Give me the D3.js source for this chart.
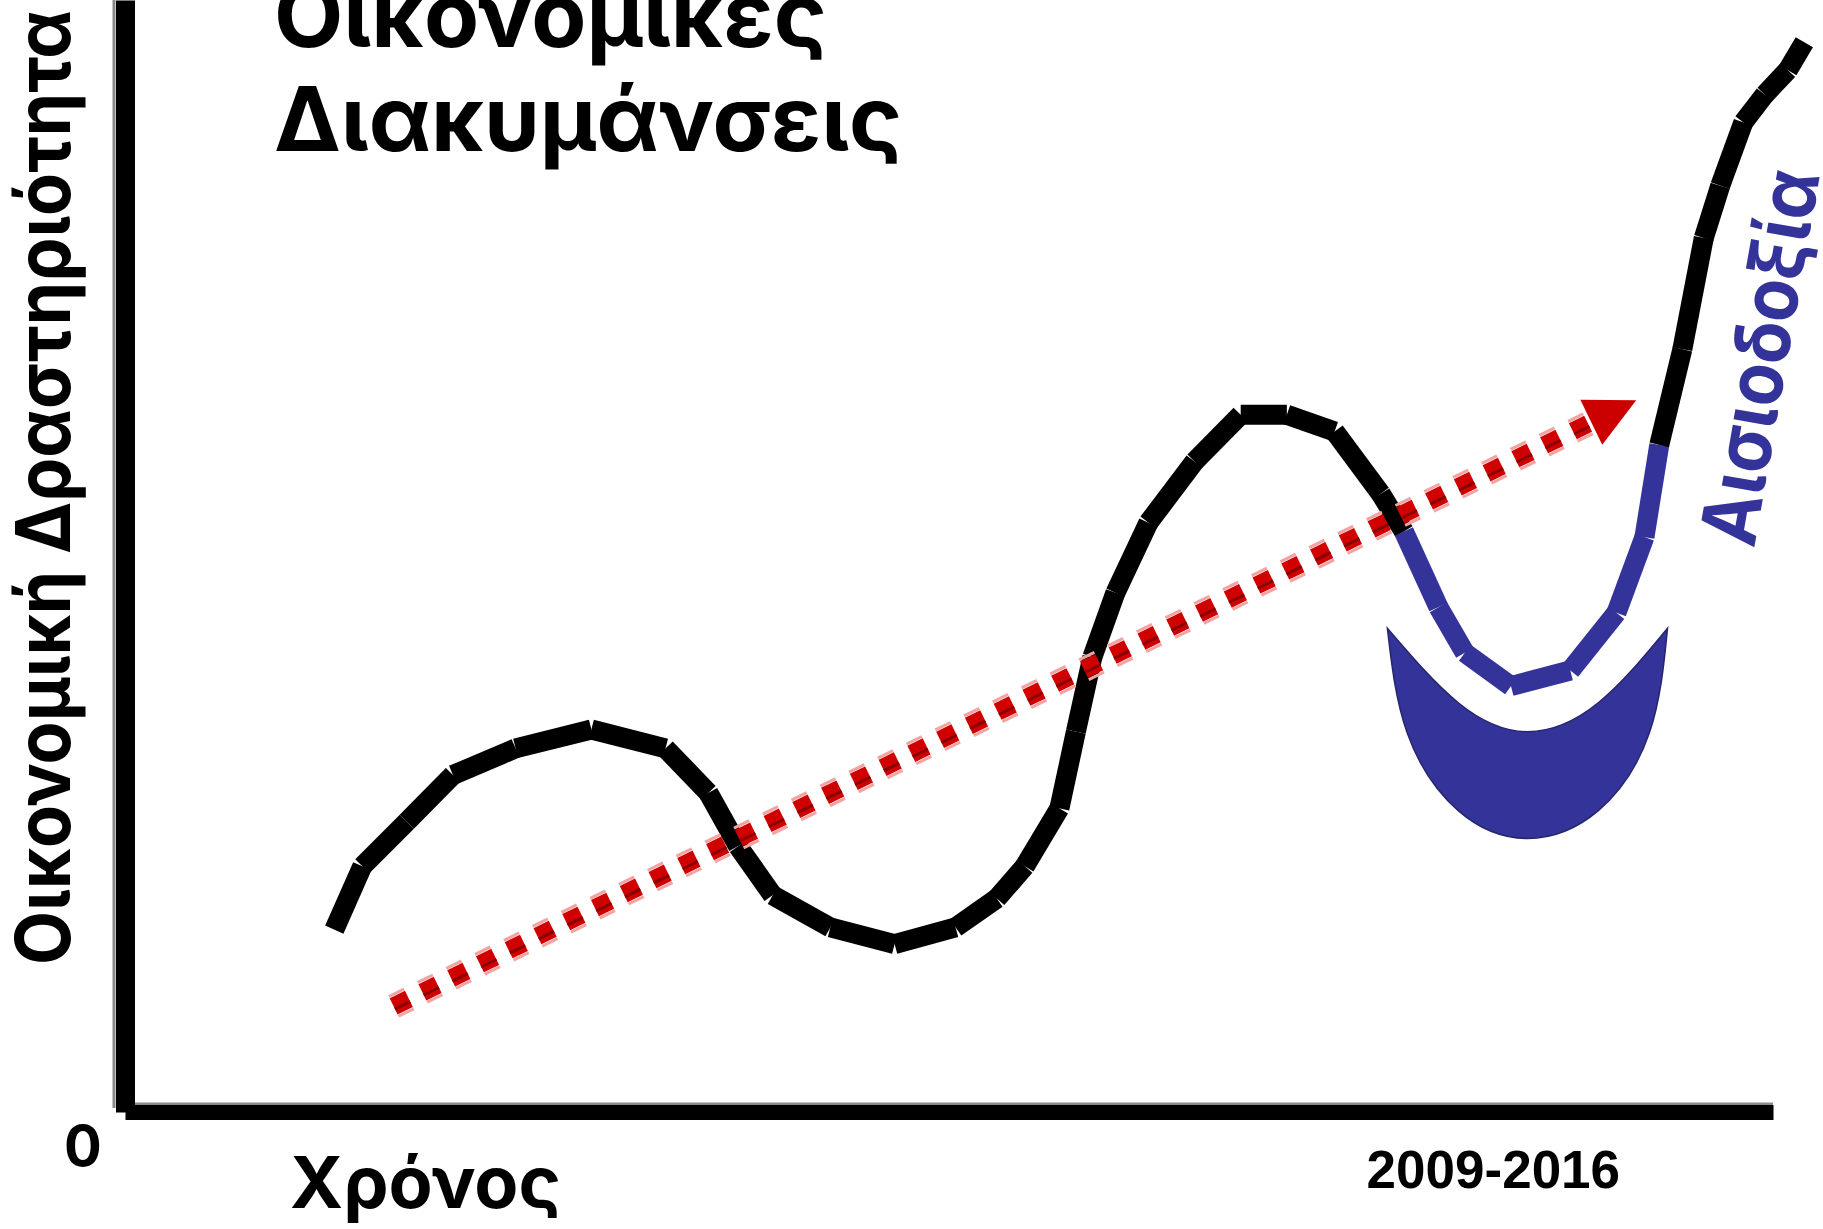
<!DOCTYPE html>
<html>
<head>
<meta charset="utf-8">
<script src="https://cdn.jsdelivr.net/npm/d3@7/dist/d3.min.js"></script>
<style>
  body { margin: 0; background: #fff; }
  text { font-family: Inter, "Open Sans", sans-serif; font-weight: 700; }
</style>
</head>
<body>
<div id="chart"></div>
<script>
// economic activity over time (0-100 both ways)
var cycleX = [12.7, 14.4, 17.1, 19.9, 23.7, 28.3, 32.8, 35.4, 37.2, 39.3, 42.8, 46.7, 50.4, 52.9, 54.6, 56.7, 57.7, 58.7, 60.1, 62.1, 64.9, 67.7, 70.5, 73.4, 76.2, 77.6];
var cycleY = [16.4, 22.1, 26.1, 30.3, 32.7, 34.4, 32.7, 28.7, 23.9, 19.5, 16.6, 15.1, 16.6, 19.2, 22.1, 27.3, 34.2, 40.9, 46.7, 53.0, 58.5, 62.7, 62.7, 61.2, 55.6, 52.2];
// blue dip (2009-2016)
var dipX = [77.6, 79.7, 81.3, 84.1, 87.7, 90.5, 92.2, 93.1];
var dipY = [52.2, 45.4, 41.3, 38.3, 39.7, 44.9, 51.7, 60.0];
// recovery
var boomX = [93.1, 94.5, 95.8, 96.8, 98.2, 99.5, 100.9, 101.9];
var boomY = [60.0, 68.6, 78.6, 83.3, 89.0, 91.5, 93.7, 96.2];
// long-run trend arrow
var trendX = [16.3, 91.7];
var trendY = [9.5, 64.0];
// smile under the dip
var smileOuterX = [76.6, 77.8, 80.9, 85.1, 89.4, 92.5, 93.6];
var smileOuterY = [43.5, 34.1, 27.1, 24.6, 27.1, 34.1, 43.5];
var smileInnerX = [93.6, 89.4, 85.1, 80.9, 76.6];
var smileInnerY = [43.5, 36.8, 34.2, 36.8, 43.5];

var titleLines = ["Οικονομικές", "Διακυμάνσεις"];
var yLabel = "Οικονομική Δραστηριότητα";
var xLabel = "Χρόνος";
var originLabel = "0";
var xTickValues = [83];
var xTickLabels = ["2009-2016"];
var dipLabel = "Αισιοδοξία";

var svg = d3.select("#chart").append("svg")
    .attr("width", 1823)
    .attr("height", 1229);

var x = d3.scaleLinear().domain([0, 100]).range([125, 1773]);
var y = d3.scaleLinear().domain([0, 100]).range([1112, 0]);

var blue = "#333399";

// gray edge on the axes
svg.append("line")
    .attr("x1", 114).attr("x2", 114)
    .attr("y1", 0).attr("y2", 1108)
    .attr("stroke", "#8a8a8a").attr("stroke-width", 3);
svg.append("line")
    .attr("x1", 124).attr("x2", 1773)
    .attr("y1", 1104).attr("y2", 1104)
    .attr("stroke", "#8a8a8a").attr("stroke-width", 3);

var gx = svg.append("g")
    .attr("transform", "translate(0," + y(0) + ")")
    .call(d3.axisBottom(x)
        .tickValues(xTickValues)
        .tickFormat(function(d, i) { return xTickLabels[i]; })
        .tickSize(0)
        .tickSizeOuter(0)
        .tickPadding(38));
gx.select(".domain").attr("stroke", "#000").attr("stroke-width", 15);
gx.selectAll("text")
    .style("font-family", "'Liberation Sans', Arial, sans-serif")
    .style("font-weight", "700")
    .style("font-size", "53px")
    .attr("fill", "#000");

var gy = svg.append("g")
    .attr("transform", "translate(" + x(0) + ",0)")
    .call(d3.axisLeft(y).tickValues([]).tickSizeOuter(0));
gy.select(".domain").attr("stroke", "#000").attr("stroke-width", 19);

// labels
svg.append("text")
    .attr("x", 83).attr("y", 1166)
    .attr("text-anchor", "middle")
    .style("font-size", "56px")
    .text(originLabel);

svg.append("text")
    .attr("x", 290).attr("y", 1208)
    .style("font-size", "72px")
    .text(xLabel);

svg.append("text")
    .attr("transform", "translate(70,965)rotate(-90)")
    .attr("textLength", 955)
    .attr("lengthAdjust", "spacingAndGlyphs")
    .style("font-size", "76px")
    .text(yLabel);

svg.selectAll(".title")
    .data(titleLines)
  .enter().append("text")
    .attr("class", "title")
    .attr("x", 274)
    .attr("y", function(d, i) { return 47 + i * 104; })
    .style("font-size", "90px")
    .text(function(d) { return d; });

svg.append("text")
    .attr("transform", "translate(1754,549)rotate(-80)")
    .attr("textLength", 380)
    .attr("lengthAdjust", "spacingAndGlyphs")
    .attr("fill", blue)
    .style("font-size", "78px")
    .text(dipLabel);

// smile
var smileLine = d3.line()
    .curve(d3.curveNatural)
    .x(function(d) { return x(d[0]); })
    .y(function(d) { return y(d[1]); });
var outerD = smileLine(d3.zip(smileOuterX, smileOuterY));
var innerD = smileLine(d3.zip(smileInnerX, smileInnerY));
svg.append("path")
    .attr("d", outerD + innerD.replace(/^M/, "L") + "Z")
    .attr("fill", blue)
    .attr("stroke", "#26266e")
    .attr("stroke-width", 1.5);

// activity curve, drawn piece by piece
function drawSegments(xs, ys, color) {
  var pts = xs.map(function(v, i) { return [x(v), y(ys[i])]; });
  svg.append("g").selectAll("line")
      .data(d3.pairs(pts))
    .enter().append("line")
      .attr("x1", function(d) { return d[0][0]; })
      .attr("y1", function(d) { return d[0][1]; })
      .attr("x2", function(d) { return d[1][0]; })
      .attr("y2", function(d) { return d[1][1]; })
      .attr("stroke", color)
      .attr("stroke-width", 20)
      .attr("stroke-linecap", "butt");
}
drawSegments(cycleX, cycleY, "#000");
drawSegments(dipX, dipY, blue);
drawSegments(boomX, boomY, "#000");

// trend arrow
var p0 = [x(trendX[0]), y(trendY[0])];
var tip = [x(trendX[1]), y(trendY[1])];
var len = Math.hypot(tip[0] - p0[0], tip[1] - p0[1]);
var ux = (tip[0] - p0[0]) / len, uy = (tip[1] - p0[1]) / len;
var nx = -uy, ny = ux;
var headLen = 50, headW = 25;
var base = [tip[0] - ux * headLen, tip[1] - uy * headLen];

var stripes = [
  {off: -11, w: 3, c: "#f3a3a3"},
  {off: 0, w: 18, c: "#d00000"},
  {off: 3, w: 3, c: "#8a0000"},
  {off: 11, w: 3, c: "#f3a3a3"}
];
svg.append("g").selectAll("line")
    .data(stripes)
  .enter().append("line")
    .attr("x1", function(d) { return p0[0] + nx * d.off; })
    .attr("y1", function(d) { return p0[1] + ny * d.off; })
    .attr("x2", function(d) { return base[0] + nx * d.off; })
    .attr("y2", function(d) { return base[1] + ny * d.off; })
    .attr("stroke", function(d) { return d.c; })
    .attr("stroke-width", function(d) { return d.w; })
    .attr("stroke-dasharray", "17 15");

svg.append("path")
    .attr("d", "M" + tip + "L" + [base[0] + nx * headW, base[1] + ny * headW] +
               "L" + [base[0] - nx * headW, base[1] - ny * headW] + "Z")
    .attr("fill", "#cc0000");
</script>
</body>
</html>
